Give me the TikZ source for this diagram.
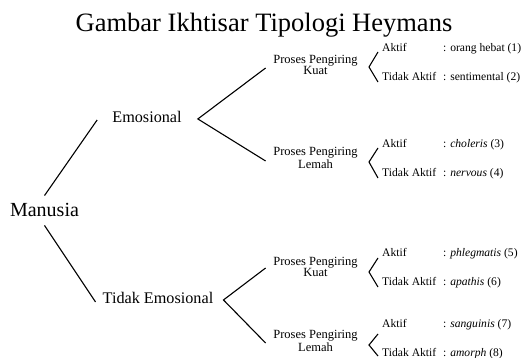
\documentclass[tikz,border=0pt]{standalone}
\usepackage{fontspec}
\setmainfont{Liberation Serif}
\begin{document}
\begin{tikzpicture}[x=1pt,y=-1pt,
  txt/.style={inner sep=0pt,anchor=base},
  lbl/.style={inner sep=0pt,anchor=base west,font=\fontsize{11.6}{13}\selectfont},
  proses/.style={inner sep=0pt,align=center,font=\fontsize{12.5}{11}\selectfont},
  conn/.style={line width=1.1pt,black}]
\useasboundingbox (0,0) rectangle (522,358);
\node[txt,font=\fontsize{26.5}{30}\selectfont] (title) at (264,32) {Gambar Ikhtisar Tipologi Heymans};
\node[txt,font=\fontsize{20}{24}\selectfont] (man) at (44.5,217) {Manusia};
\node[txt,font=\fontsize{16.2}{19}\selectfont] (emo) at (147,123) {Emosional};
\node[txt,font=\fontsize{16.2}{19}\selectfont] (temo) at (158,303) {Tidak Emosional};
\node[proses] (p1) at (315.5,65) {Proses Pengiring\\Kuat};
\node[proses] (p2) at (315.5,158) {Proses Pengiring\\Lemah};
\node[proses] (p3) at (315.5,267) {Proses Pengiring\\Kuat};
\node[proses] (p4) at (315.5,341) {Proses Pengiring\\Lemah};
% connectors
\draw[conn] ([yshift=8pt]man.north) -- ([xshift=-15pt,yshift=-2.5pt]emo.west);
\draw[conn] ([yshift=-8pt]man.south) -- ([xshift=-7pt,yshift=-4.5pt]temo.west);
\coordinate (ev) at ([xshift=16pt,yshift=-1.5pt]emo.east);
\coordinate (tv) at ([xshift=10pt,yshift=-2.5pt]temo.east);
\draw[conn] ([xshift=-7.5pt,yshift=-3pt]p1.west) -- (ev) -- ([xshift=-7.5pt,yshift=-3pt]p2.west);
\draw[conn] ([xshift=-7.5pt,yshift=-1pt]p3.west) -- (tv) -- ([xshift=-7.5pt,yshift=-2pt]p4.west);
% brackets
\coordinate (b1t) at (378,52); \coordinate (b1v) at (369,67); \coordinate (b1b) at (378,82);
\coordinate (b2t) at (378,148); \coordinate (b2v) at (369,162); \coordinate (b2b) at (378,178);
\coordinate (b3t) at (378,258); \coordinate (b3v) at (369,272); \coordinate (b3b) at (378,287);
\coordinate (b4t) at (378,334); \coordinate (b4v) at (369,345); \coordinate (b4b) at (378,356);
\draw[conn] (b1t) -- (b1v) -- (b1b);
\draw[conn] (b2t) -- (b2v) -- (b2b);
\draw[conn] (b3t) -- (b3v) -- (b3b);
\draw[conn] (b4t) -- (b4v) -- (b4b);
% labels
\node[lbl] (a1) at (382,52) {Aktif};
\node[lbl] (v1) at (443,52) {: orang hebat (1)};
\node[lbl] (t1) at (382,81) {Tidak Aktif};
\node[lbl] (w1) at (443,81) {: sentimental (2)};
\node[lbl] (a2) at (382,148) {Aktif};
\node[lbl] (v2) at (443,148) {: \textit{choleris} (3)};
\node[lbl] (t2) at (382,177) {Tidak Aktif};
\node[lbl] (w2) at (443,177) {: \textit{nervous} (4)};
\node[lbl] (a3) at (382,256) {Aktif};
\node[lbl] (v3) at (443,256) {: \textit{phlegmatis} (5)};
\node[lbl] (t3) at (382,285) {Tidak Aktif};
\node[lbl] (w3) at (443,285) {: \textit{apathis} (6)};
\node[lbl] (a4) at (382,327) {Aktif};
\node[lbl] (v4) at (443,327) {: \textit{sanguinis} (7)};
\node[lbl] (t4) at (382,356) {Tidak Aktif};
\node[lbl] (w4) at (443,356) {: \textit{amorph} (8)};
\end{tikzpicture}
\end{document}
